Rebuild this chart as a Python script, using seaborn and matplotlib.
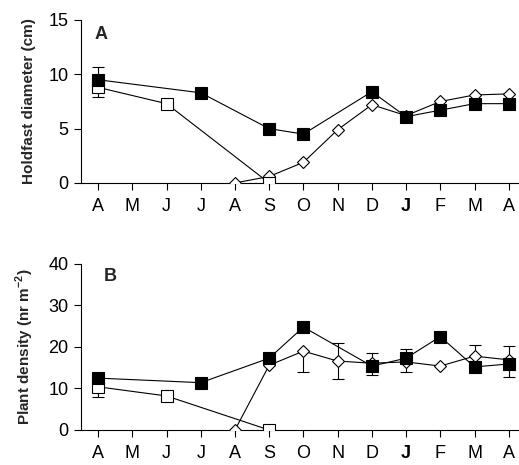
import numpy as np
import pandas as pd
import matplotlib
matplotlib.use("Agg")
import matplotlib.pyplot as plt
import seaborn as sns

sns.set_style("ticks")
plt.rcParams['font.family'] = ['Liberation Sans', 'DejaVu Sans']
plt.rcParams['mathtext.fontset'] = 'custom'
plt.rcParams['mathtext.bf'] = 'Liberation Sans:bold'
plt.rcParams['mathtext.rm'] = 'Liberation Sans'

aylar = ["A", "M", "J", "J", "A", "S", "O", "N", "D", "J", "F", "M", "A"]

# dolu kare, acik kare, acik elmas seriler (ay indeksleri)
dolu_x = [0, 3, 5, 6, 8, 9, 10, 11, 12]
acik_x = [0, 2, 5]
elmas_x = [4, 5, 6, 7, 8, 9, 10, 11, 12]

# A: holdfast diameter
a_dolu = [9.5, 8.3, 5.0, 4.5, 8.4, 6.1, 6.7, 7.3, 7.3]
a_acik = [8.8, 7.3, 0.0]
a_elmas = [0.0, 0.6, 1.9, 4.9, 7.2, 6.2, 7.5, 8.1, 8.2]
a_dolu_alt = [0, 0, 0, 0, 0, 0, 0, 0, 0]
a_dolu_ust = [1.2, 0, 0, 0, 0, 0, 0, 0, 0]
a_acik_alt = [0.9, 0, 0]
a_acik_ust = [0, 0, 0]

# B: plant density
b_dolu = [12.5, 11.4, 17.3, 24.8, 15.4, 17.3, 22.5, 15.2, 15.9]
b_acik = [10.4, 8.2, 0.0]
b_elmas = [0.0, 15.6, 19.0, 16.6, 16.1, 16.4, 15.4, 17.8, 16.9]
b_dolu_alt = [0, 0, 0, 0, 0, 3.3, 0, 0, 3.1]
b_dolu_ust = [0, 0, 0, 0, 0, 2.2, 0, 0, 0]
b_acik_alt = [2.4, 0, 0]
b_acik_ust = [0, 0, 0]
b_elmas_alt = [0, 0, 5.0, 4.2, 2.9, 0, 0, 0, 0]
b_elmas_ust = [0, 0, 0, 4.4, 2.4, 0, 0, 2.7, 3.3]

fig = plt.figure(figsize=(5.19, 4.65), dpi=100)
axA = fig.add_axes([0.156, 0.6065, 0.844, 0.3505])
axB = fig.add_axes([0.156, 0.0753, 0.844, 0.357])


def ciz(ax, dolu, acik, elmas, hatalar):
    sns.lineplot(x=elmas_x, y=elmas, ax=ax, color="black", lw=0.8, marker="D",
                 markersize=6.5, markerfacecolor="white", markeredgecolor="black",
                 markeredgewidth=0.8, zorder=3)
    sns.lineplot(x=acik_x, y=acik, ax=ax, color="black", lw=0.8, marker="s",
                 markersize=8, markerfacecolor="white", markeredgecolor="black",
                 markeredgewidth=0.8, zorder=4)
    sns.lineplot(x=dolu_x, y=dolu, ax=ax, color="black", lw=0.8, marker="s",
                 markersize=8, markerfacecolor="black", markeredgecolor="black",
                 markeredgewidth=0.8, zorder=5)
    for xs, ys, alt, ust in hatalar:
        alt = np.array(alt)
        ust = np.array(ust)
        m = (alt > 0) | (ust > 0)
        ax.errorbar(np.array(xs)[m], np.array(ys)[m], yerr=[alt[m], ust[m]],
                    fmt="none", ecolor="black", elinewidth=0.8, capsize=4,
                    capthick=0.8, zorder=2)


ciz(axA, a_dolu, a_acik, a_elmas,
    [(dolu_x, a_dolu, a_dolu_alt, a_dolu_ust),
     (acik_x, a_acik, a_acik_alt, a_acik_ust)])
ciz(axB, b_dolu, b_acik, b_elmas,
    [(dolu_x, b_dolu, b_dolu_alt, b_dolu_ust),
     (acik_x, b_acik, b_acik_alt, b_acik_ust),
     (elmas_x, b_elmas, b_elmas_alt, b_elmas_ust)])

for ax, ymax, yt in [(axA, 15, [0, 5, 10, 15]), (axB, 40, [0, 10, 20, 30, 40])]:
    ax.set_xlim(-0.5, 12.3)
    ax.set_ylim(0, ymax)
    ax.set_yticks(yt)
    ax.set_xticks(range(len(aylar)))
    ax.set_xticklabels(aylar)
    ax.tick_params(axis="both", direction="out", length=5, width=0.8,
                   labelsize=13, colors="black", pad=4)
    ax.tick_params(axis="x", pad=6)
    for s in ["top", "right"]:
        ax.spines[s].set_visible(False)
    for s in ["left", "bottom"]:
        ax.spines[s].set_linewidth(0.8)
        ax.spines[s].set_color("black")
    ax.xaxis.get_ticklabels()[9].set_fontweight("bold")

axA.set_ylabel("Holdfast diameter (cm)", fontsize=11, fontweight="bold", labelpad=9)
axB.set_ylabel("Plant density (nr m$^{\\mathbf{-2}}$)", fontsize=11,
               fontweight="bold", labelpad=9)
axA.text(0.09, 13.7, "A", fontsize=13, fontweight="bold", ha="center", va="center")
axB.text(0.35, 37.0, "B", fontsize=13, fontweight="bold", ha="center", va="center")

fig.savefig("out.png", dpi=100)
